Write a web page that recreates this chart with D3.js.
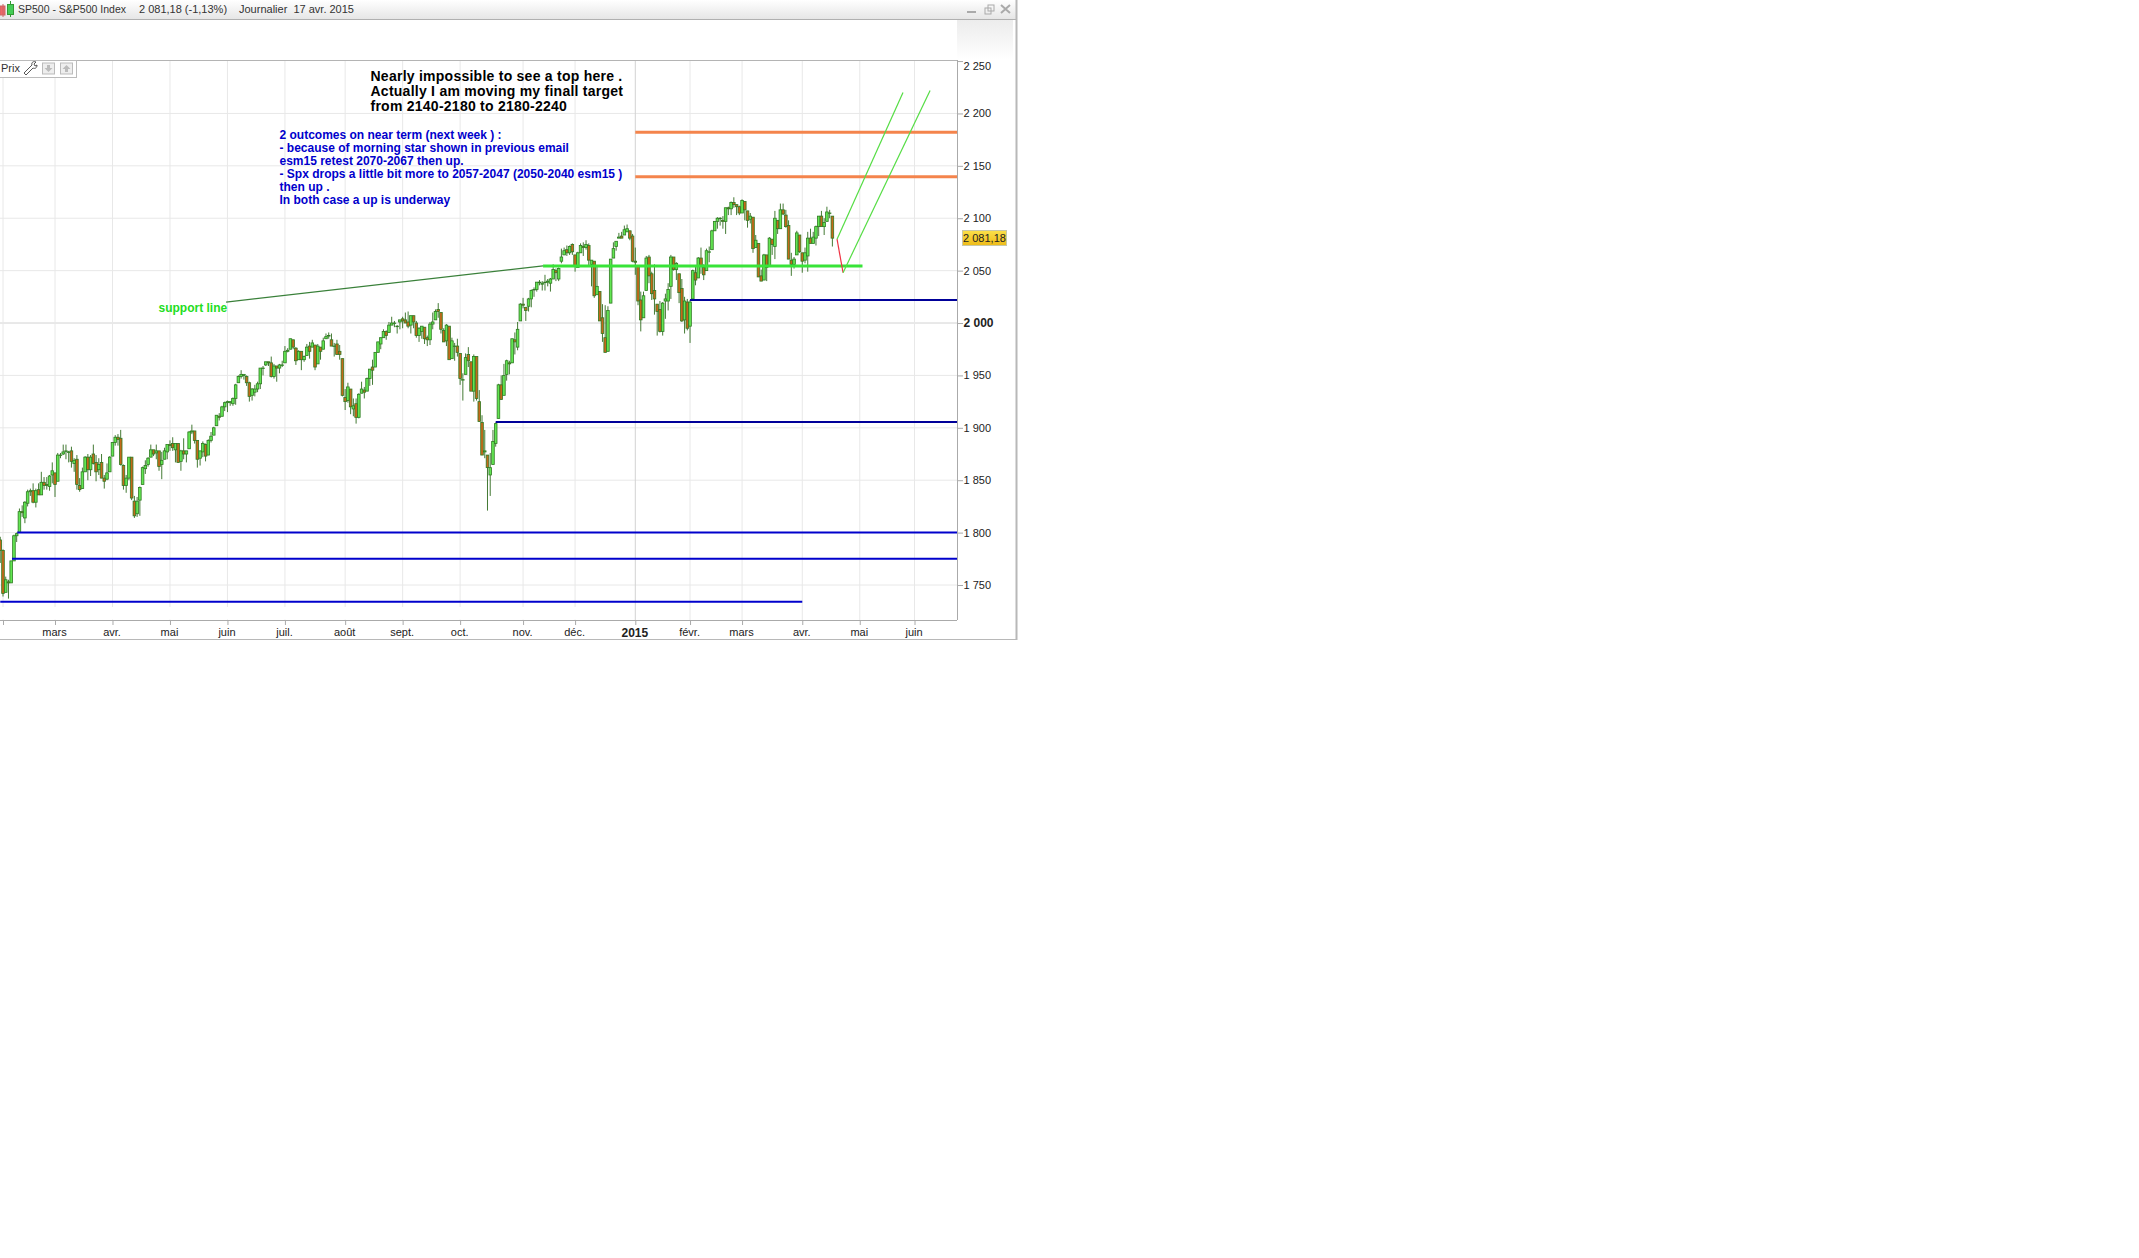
<!DOCTYPE html>
<html>
<head>
<meta charset="utf-8">
<script src="https://cdn.jsdelivr.net/npm/d3@7"></script>
<style>
  body { margin: 0; background: #fff; }
  text { font-family: "Liberation Sans", Arial, sans-serif; }
</style>
</head>
<body>
<svg id="chart" width="2139" height="1258"></svg>
<script>
// daily bars, one line per month, first bar is 31 Jan 2014
const barOpen = [1793,
  1783,1743,1753,1752,1773,1797,1800,1820,1814,1828,1839,1840,1829,1841,1836,1848,1846,1844,1855,
  1857,1849,1874,1875,1878,1877,1878,1866,1870,1845,1842,1858,1872,1860,1875,1867,1860,1867,1852,1851,1858,
  1873,1886,1891,1890,1864,1845,1852,1872,1830,1818,1831,1846,1861,1865,1872,1879,1876,1878,1865,1870,1877,
  1884,1885,1879,1885,1868,1878,1875,1880,1896,1897,1888,1871,1877,1884,1874,1888,1893,1902,1911,1911,1920,
  1924,1924,1923,1928,1943,1949,1950,1949,1943,1931,1934,1937,1942,1957,1960,1963,1962,1949,1959,1957,1960,
  1962,1973,1975,1984,1976,1965,1973,1965,1969,1978,1977,1979,1961,1977,1975,1985,1988,1984,1978,1980,1973,1966,
  1929,1926,1937,1918,1923,1910,1933,1936,1935,1947,1958,1958,1972,1980,1986,1992,1991,1998,2000,1997,2001,
  2004,2003,2001,1998,2007,2000,1988,1992,1996,1986,1984,1999,2003,2013,2010,1993,1983,1997,1966,1978,1978,
  1971,1946,1951,1970,1963,1935,1968,1925,1905,1877,1874,1855,1865,1885,1909,1941,1931,1951,1962,1962,1984,1977,2002,
  2018,2015,2016,2023,2032,2032,2039,2037,2039,2039,2038,2042,2050,2042,2059,2065,2070,2067,2075,
  2065,2053,2067,2073,2072,2074,2056,2059,2027,2030,2005,1986,1973,2019,2062,2073,2081,2083,2084,2087,2088,2083,
  2059,2054,2022,2005,2031,2063,2047,2031,2018,2013,1992,2021,2021,2035,2063,2051,2047,2033,2003,2020,
  1997,2023,2048,2043,2062,2053,2050,2068,2070,2088,2097,2100,2098,2097,2110,2109,2115,2113,2111,
  2105,2116,2107,2099,2101,2072,2076,2045,2041,2065,2055,2080,2073,2098,2090,2108,2103,2093,2060,2056,2065,2084,
  2067,2060,2064,2081,2076,2081,2092,2102,2092,2097,2105,2102];
const barClose = [1783,
  1742,1755,1752,1773,1797,1799,1820,1819,1829,1839,1840,1829,1840,1836,1848,1845,1845,1854,1859,
  1846,1874,1874,1877,1878,1877,1868,1869,1846,1841,1858,1872,1860,1872,1866,1858,1865,1852,1849,1857,1872,
  1886,1891,1889,1865,1845,1852,1872,1833,1816,1830,1843,1862,1864,1871,1879,1875,1878,1863,1869,1878,1884,
  1883,1881,1885,1867,1878,1875,1878,1896,1897,1888,1870,1878,1885,1873,1888,1892,1900,1912,1910,1920,1924,
  1925,1925,1928,1941,1949,1951,1951,1943,1930,1937,1937,1942,1957,1957,1963,1962,1949,1959,1957,1960,1960,
  1973,1974,1985,1977,1964,1973,1965,1968,1977,1973,1981,1958,1978,1973,1983,1987,1988,1978,1978,1970,1970,1931,
  1925,1939,1920,1921,1910,1932,1937,1934,1947,1956,1955,1972,1982,1986,1992,1988,1998,2000,2000,1997,2003,
  2002,2000,1997,2007,2001,1988,1995,1997,1985,1984,1999,2001,2011,2011,1994,1982,1998,1965,1983,1978,1972,
  1947,1946,1967,1964,1935,1968,1928,1906,1874,1878,1862,1862,1887,1904,1941,1927,1950,1964,1961,1985,1982,1994,2018,
  2017,2012,2023,2031,2032,2039,2039,2038,2039,2040,2042,2051,2048,2052,2063,2069,2067,2073,2068,
  2054,2067,2074,2072,2075,2060,2060,2026,2035,2002,1990,1972,2012,2061,2071,2078,2082,2081,2089,2090,2081,2059,
  2058,2021,2003,2026,2062,2045,2028,2023,2011,1992,2019,2023,2032,2063,2051,2057,2029,2002,2021,1995,
  2020,2050,2041,2062,2055,2046,2069,2068,2088,2097,2100,2100,2097,2110,2109,2115,2113,2111,2105,
  2117,2108,2098,2102,2071,2079,2044,2040,2065,2053,2081,2075,2100,2090,2108,2104,2092,2061,2056,2061,2086,2068,
  2059,2067,2081,2076,2082,2092,2102,2092,2096,2106,2105,2081];
const barHigh = [1796,
  1784,1758,1755,1773,1798,1800,1823,1826,1830,1841,1842,1847,1842,1847,1858,1853,1853,1855,1867,
  1857,1876,1876,1884,1884,1878,1882,1871,1874,1852,1862,1873,1875,1874,1884,1874,1871,1875,1855,1866,1873,
  1886,1893,1894,1898,1865,1855,1872,1872,1835,1834,1844,1863,1869,1872,1884,1879,1884,1878,1877,1881,1884,
  1888,1891,1885,1885,1879,1890,1878,1897,1903,1897,1888,1878,1887,1885,1889,1896,1901,1912,1914,1921,1925,
  1926,1925,1929,1942,1950,1955,1951,1950,1944,1938,1941,1944,1957,1959,1963,1963,1968,1961,1959,1961,1964,
  1978,1976,1985,1984,1977,1974,1973,1969,1980,1982,1984,1979,1980,1977,1986,1990,1991,1990,1981,1984,1979,1966,
  1937,1943,1937,1928,1928,1933,1944,1939,1948,1956,1965,1972,1982,1986,1994,1993,2001,2006,2002,1998,2003,
  2006,2010,2011,2007,2007,2002,1996,1997,1996,1988,2001,2010,2013,2019,2010,1995,1999,1997,1986,1981,1985,
  1971,1952,1971,1977,1963,1970,1968,1936,1912,1898,1874,1876,1898,1905,1942,1950,1961,1965,1964,1985,1991,2001,2019,
  2024,2015,2024,2032,2034,2039,2041,2040,2046,2042,2043,2056,2052,2053,2071,2072,2074,2074,2076,
  2065,2068,2076,2077,2079,2076,2060,2059,2055,2030,2018,2017,2016,2061,2077,2078,2086,2087,2093,2094,2088,2085,
  2072,2054,2030,2030,2064,2065,2049,2056,2018,2021,2020,2028,2038,2065,2062,2058,2047,2042,2025,2023,
  2022,2051,2054,2063,2072,2056,2071,2073,2089,2097,2101,2101,2102,2110,2111,2116,2120,2113,2112,
  2118,2116,2107,2105,2101,2084,2076,2051,2066,2065,2082,2080,2107,2098,2114,2114,2108,2098,2067,2063,2088,2084,
  2067,2072,2087,2090,2087,2093,2102,2107,2100,2111,2108,2102];
const barLow = [1771,
  1739,1743,1737,1752,1773,1791,1800,1815,1809,1825,1835,1828,1824,1836,1836,1841,1841,1840,1847,
  1834,1849,1871,1874,1870,1867,1862,1858,1841,1839,1842,1858,1850,1854,1865,1849,1855,1852,1842,1850,1858,
  1873,1883,1883,1864,1841,1838,1850,1831,1814,1815,1816,1846,1856,1863,1872,1873,1870,1859,1851,1870,1870,
  1878,1878,1867,1867,1859,1870,1867,1880,1894,1885,1862,1864,1872,1868,1874,1886,1893,1902,1907,1911,1916,
  1915,1921,1921,1922,1943,1947,1946,1940,1925,1926,1930,1934,1937,1950,1959,1959,1948,1947,1944,1952,1958,
  1962,1972,1975,1975,1960,1965,1955,1963,1969,1966,1977,1955,1961,1965,1975,1985,1985,1978,1968,1970,1965,1930,
  1917,1924,1913,1911,1904,1909,1933,1928,1935,1940,1941,1958,1972,1975,1986,1984,1991,1998,1996,1990,1994,
  1995,2000,1995,1990,1995,1986,1982,1985,1980,1978,1979,1994,2003,2005,1990,1982,1978,1965,1966,1964,1968,
  1941,1926,1951,1958,1935,1925,1926,1906,1874,1871,1821,1835,1865,1882,1909,1927,1931,1945,1951,1962,1970,1974,2002,
  2014,2002,2011,2015,2025,2030,2036,2031,2031,2035,2030,2042,2040,2040,2057,2065,2064,2065,2065,
  2049,2053,2067,2064,2070,2054,2035,2024,2027,2002,1982,1972,1973,2019,2062,2069,2081,2081,2084,2087,2079,2058,
  2046,2017,1992,2005,2031,2038,2022,2008,1988,1991,1988,2004,2012,2023,2050,2041,2019,2001,1990,1993,
  1981,2023,2036,2043,2047,2041,2050,2058,2070,2088,2090,2093,2090,2085,2103,2103,2110,2103,2103,
  2105,2098,2091,2095,2067,2072,2044,2040,2041,2040,2055,2065,2061,2085,2090,2103,2091,2061,2045,2052,2065,2067,
  2048,2057,2049,2076,2076,2074,2083,2092,2084,2097,2100,2073];

// month starts as bar numbers, and their labels
const monthBars = [1,20,41,62,83,104,126,147,168,191,210,232,252,271,293,314,334];
const monthLabels = ["","mars","avr.","mai","juin","juil.","août","sept.","oct.","nov.","déc.","2015","févr.","mars","avr.","mai","juin"];
const priceTicks = [1750,1800,1850,1900,1950,2000,2050,2100,2150,2200,2250];

// drawn levels: [price, first bar, last bar]
const lastBarEdge = 349.6;
const orangeLevels = [[2182,232,lastBarEdge],[2139.5,232,lastBarEdge]];
const navyLevels = [[2022,252,lastBarEdge],[1905.5,181,lastBarEdge]];
const blueLevels = [[1800,6.2,lastBarEdge],[1775,4.3,lastBarEdge],[1734,0,293]];
const supportLevel = [2054.5,198.3,315];
// sloped lines: [bar, price, bar, price]
const supportSlope = [82.5,2020,198.3,2054.5];
const dropLine = [305.7,2080,307.9,2048];
const riseLines = [[305.7,2080,329.8,2220],[307.9,2048,339.7,2222]];

const blackNote = ["Nearly impossible to see a top here .","Actually I am moving my finall target","from 2140-2180 to 2180-2240"];
const blueNote = ["2 outcomes on near term (next week ) :","- because of morning star shown in previous email","esm15 retest 2070-2067 then up.","- Spx drops a little bit more to 2057-2047 (2050-2040 esm15 )","then up .","In both case a up is underway"];

const svg = d3.select("#chart");
const plotRight = 957, plotTop = 60, plotBottom = 620;

const x = d3.scaleLinear().domain([1, 334]).range([3, 914.5]);
const y = d3.scaleLinear().domain([1716.6, 2251]).range([plotBottom, plotTop]);

// gradients
const defs = svg.append("defs");
function vGrad(id, from, to) {
  const g = defs.append("linearGradient").attr("id", id).attr("x1", 0).attr("x2", 0).attr("y1", 0).attr("y2", 1);
  g.append("stop").attr("offset", 0).attr("stop-color", from);
  g.append("stop").attr("offset", 1).attr("stop-color", to);
}
vGrad("barGrad", "#ffffff", "#e6e6e6");
vGrad("sideGrad", "#ececec", "#ffffff");
vGrad("tagGrad", "#fbe04a", "#eebb18");
defs.append("clipPath").attr("id", "plotClip").append("rect")
  .attr("x", 0).attr("y", plotTop).attr("width", plotRight).attr("height", plotBottom - plotTop);

// window frame
svg.append("rect").attr("x", 0).attr("y", 0).attr("width", 1016).attr("height", 19).attr("fill", "url(#barGrad)");
svg.append("line").attr("x1", 0).attr("x2", 1016).attr("y1", 19.5).attr("y2", 19.5).attr("stroke", "#b0b0b0");
svg.append("rect").attr("x", 957).attr("y", 20).attr("width", 56).attr("height", 40).attr("fill", "url(#sideGrad)");
svg.append("line").attr("x1", 1016.5).attr("x2", 1016.5).attr("y1", 0).attr("y2", 640).attr("stroke", "#b8b8b8").attr("stroke-width", 2);
svg.append("line").attr("x1", 0).attr("x2", 1016).attr("y1", 639.5).attr("y2", 639.5).attr("stroke", "#b8b8b8");

// title bar
svg.append("rect").attr("x", 0).attr("y", 6).attr("width", 5).attr("height", 9).attr("fill", "#ee6666").attr("stroke", "#cc6666");
svg.append("line").attr("x1", 3).attr("x2", 3).attr("y1", 4).attr("y2", 17).attr("stroke", "#cc6666");
svg.append("line").attr("x1", 10.5).attr("x2", 10.5).attr("y1", 1).attr("y2", 17).attr("stroke", "#339933");
svg.append("rect").attr("x", 7.5).attr("y", 4.5).attr("width", 6).attr("height", 10).attr("fill", "#44cc55").attr("stroke", "#339933");
const titleBits = [["SP500 - S&P500 Index", 18, 10.5], ["2 081,18 (-1,13%)", 139, 11], ["Journalier  17 avr. 2015", 239, 11]];
svg.selectAll("text.title").data(titleBits).join("text").attr("class", "title")
  .attr("x", d => d[1]).attr("y", 13).attr("font-size", d => d[2]).attr("fill", "#333")
  .attr("xml:space", "preserve").text(d => d[0]);
svg.append("line").attr("x1", 967).attr("x2", 976).attr("y1", 12).attr("y2", 12).attr("stroke", "#aaa").attr("stroke-width", 2);
svg.append("rect").attr("x", 985).attr("y", 8).attr("width", 6).attr("height", 6).attr("fill", "none").attr("stroke", "#aaa");
svg.append("rect").attr("x", 988).attr("y", 5).attr("width", 6).attr("height", 6).attr("fill", "none").attr("stroke", "#aaa");
svg.append("path").attr("d", "M1001 5L1010 13M1010 5L1001 13").attr("stroke", "#aaa").attr("stroke-width", 2);

// grid
const gridG = svg.append("g");
gridG.selectAll("line.h").data(priceTicks.filter(d => d < 2250)).join("line").attr("class", "h")
  .attr("x1", 0).attr("x2", plotRight).attr("y1", d => y(d)).attr("y2", d => y(d))
  .attr("stroke", d => d === 2000 ? "#d2d2d2" : "#e8e8e8").attr("stroke-width", 1);
gridG.selectAll("line.v").data(monthBars).join("line").attr("class", "v")
  .attr("x1", d => x(d)).attr("x2", d => x(d)).attr("y1", plotTop).attr("y2", plotBottom)
  .attr("stroke", (d, i) => monthLabels[i] === "2015" ? "#d2d2d2" : "#e8e8e8").attr("stroke-width", 1);
// the left part of the band above the date axis is blank in the original
gridG.append("rect").attr("x", 0).attr("y", 607).attr("width", 620).attr("height", 12.5).attr("fill", "#fff");
gridG.append("line").attr("x1", 0).attr("x2", plotRight).attr("y1", plotTop + 0.5).attr("y2", plotTop + 0.5).attr("stroke", "#b4b4b4");

// axes
const fmtPrice = v => Math.floor(v / 1000) + " " + String(v % 1000).padStart(3, "0");
const yAxis = svg.append("g").attr("transform", `translate(${plotRight},0)`)
  .call(d3.axisRight(y).tickValues(priceTicks).tickFormat(fmtPrice).tickSize(6).tickPadding(0.5));
yAxis.select(".domain").attr("stroke", "#aaa").attr("d", `M0.5,${plotTop}V${plotBottom}`);
yAxis.selectAll("line").attr("stroke", "#aaa");
yAxis.selectAll("text").attr("font-size", d => d === 2000 ? 12 : 11).attr("font-family", '"Liberation Sans"').attr("fill", "#222")
  .attr("font-weight", d => d === 2000 ? "bold" : "normal");
yAxis.selectAll("text").filter(d => d === 2250).attr("dy", "0.8em");

const xAxis = svg.append("g").attr("transform", `translate(-1,${plotBottom})`)
  .call(d3.axisBottom(x).tickValues(monthBars).tickFormat((d, i) => monthLabels[i]).tickSize(5).tickPadding(3));
xAxis.select(".domain").attr("stroke", "#aaa").attr("d", `M1,0.5H${plotRight + 1}`);
xAxis.selectAll("line").attr("stroke", "#aaa").attr("transform", "translate(1,0)");
xAxis.selectAll("text").attr("font-size", 11).attr("font-family", '"Liberation Sans"').attr("fill", "#222");
xAxis.selectAll("text").filter((d, i) => monthLabels[i] === "2015").attr("font-weight", "bold").attr("font-size", 12);

// candles
const plot = svg.append("g").attr("clip-path", "url(#plotClip)");
const bars = plot.selectAll("g.bar").data(barOpen.map((o, i) => i)).join("g").attr("class", "bar");
bars.append("line")
  .attr("x1", i => x(i)).attr("x2", i => x(i))
  .attr("y1", i => y(barHigh[i])).attr("y2", i => y(barLow[i]))
  .attr("stroke", "#2f6b1e").attr("stroke-width", 0.9);
bars.append("rect")
  .attr("x", i => x(i) - 1.3).attr("width", 2.6)
  .attr("y", i => y(Math.max(barOpen[i], barClose[i])))
  .attr("height", i => Math.max(0.5, Math.abs(y(barOpen[i]) - y(barClose[i]))))
  .attr("fill", i => barClose[i] >= barOpen[i] ? "#62e652" : "#c4681a")
  .attr("stroke", "#2f7a22").attr("stroke-width", 0.8);

// levels
function drawLevels(list, color, w) {
  plot.selectAll(null).data(list).join("line")
    .attr("x1", d => x(d[1])).attr("x2", d => x(d[2]))
    .attr("y1", d => y(d[0])).attr("y2", d => y(d[0]))
    .attr("stroke", color).attr("stroke-width", w);
}
function drawSlopes(list, color, w) {
  plot.selectAll(null).data(list).join("line")
    .attr("x1", d => x(d[0])).attr("y1", d => y(d[1]))
    .attr("x2", d => x(d[2])).attr("y2", d => y(d[3]))
    .attr("stroke", color).attr("stroke-width", w);
}
drawLevels(orangeLevels, "#f4844c", 3);
drawLevels(navyLevels, "#000099", 2);
drawLevels(blueLevels, "#0000cc", 2);
drawSlopes([supportSlope], "#3a803a", 1.2);
drawLevels([supportLevel], "#38e438", 3);
drawSlopes([dropLine], "#ee3344", 1.2);
drawSlopes(riseLines, "#55dd44", 1.2);

// price box
const priceBox = svg.append("g");
priceBox.append("rect").attr("x", 962.5).attr("y", 230.5).attr("width", 44).attr("height", 15)
  .attr("fill", "url(#tagGrad)").attr("stroke", "#c8c8a8");
priceBox.append("text").attr("x", 984.5).attr("y", 242).attr("text-anchor", "middle")
  .attr("font-size", 11).attr("fill", "#222").text("2 081,18");

// Prix box
svg.append("rect").attr("x", -1).attr("y", 60.5).attr("width", 77.5).attr("height", 17)
  .attr("fill", "#fff").attr("stroke", "#bbb");
svg.append("text").attr("x", 1).attr("y", 72).attr("font-size", 11).attr("fill", "#333").text("Prix");
svg.append("path").attr("d", "M24 73L32 65C31 62 34 61 36 62L34 64L35 66L37 65C37 68 35 69 33 68L26 75Z")
  .attr("fill", "#fff").attr("stroke", "#444").attr("stroke-width", 0.9);
[42.5, 60.5].forEach((bx, k) => {
  svg.append("rect").attr("x", bx).attr("y", 63).attr("width", 12).attr("height", 11).attr("fill", "#eee").attr("stroke", "#bbb");
  svg.append("path").attr("d", k === 0
      ? `M${bx + 6} 72l-4 -4h2.5v-3h3v3h2.5z`
      : `M${bx + 6} 65l4 4h-2.5v3h-3v-3h-2.5z`)
    .attr("fill", "#bbb");
});

// notes
svg.selectAll("text.blackNote").data(blackNote).join("text").attr("class", "blackNote")
  .attr("x", 370.5).attr("y", (d, i) => 81 + i * 15)
  .attr("font-size", 14).attr("font-weight", "bold").attr("letter-spacing", 0.25).attr("fill", "#000").text(d => d);
svg.selectAll("text.blueNote").data(blueNote).join("text").attr("class", "blueNote")
  .attr("x", 279.5).attr("y", (d, i) => 139 + i * 13)
  .attr("font-size", 12).attr("font-weight", "bold").attr("fill", "#0000cc").text(d => d);
svg.append("text").attr("x", 158.5).attr("y", 312).attr("font-size", 12).attr("font-weight", "bold")
  .attr("fill", "#22dd22").text("support line");
</script>
</body>
</html>
